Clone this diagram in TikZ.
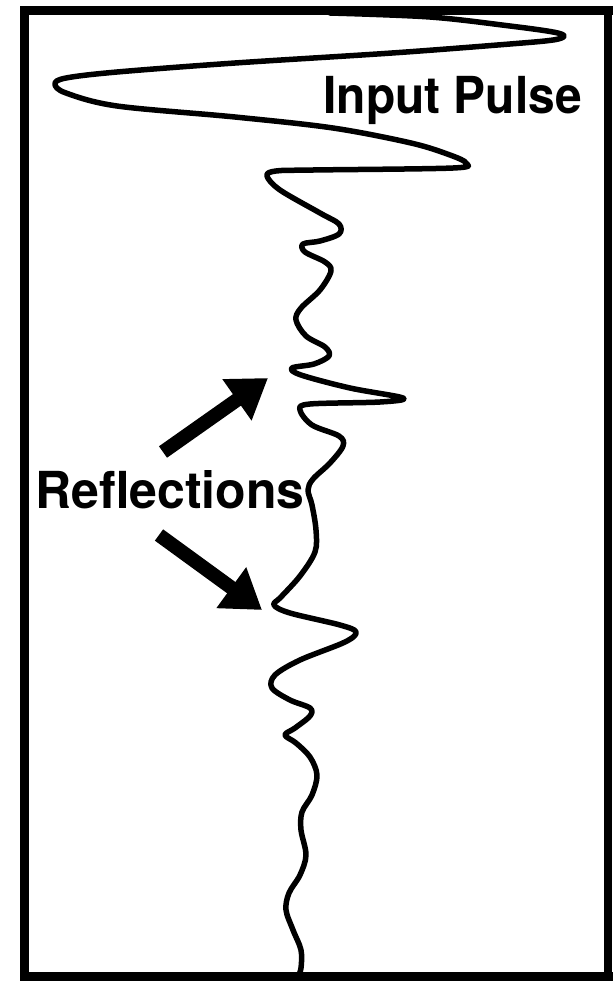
\documentclass[tikz,border=0pt]{standalone}
\usepackage{fontspec}
\setmainfont{TeX Gyre Heros}
\usetikzlibrary{arrows.meta}
\tikzset{
  frameline/.style={line width=9pt, line cap=rect},
  wave/.style={line width=5.5pt, line join=round, line cap=round},
  bigarrow/.style={line width=14pt, -{Triangle[length=38pt,width=48pt]}},
  lbl/.style={inner sep=0pt, anchor=base west, font=\fontsize{51}{51}\selectfont\bfseries}
}
\begin{document}
\begin{tikzpicture}[x=1pt,y=-1pt]
\useasboundingbox (0,0) rectangle (614,983);
% frame
\draw[frameline] (608,976) -- (24,976) -- (24,10) -- (608,10);
\draw[line width=8pt] (608,10) -- (608,976);
% waveform
\draw[wave] plot[smooth, tension=0.55] coordinates {
(330,13) (430,17) (510,26) (553,32) (564,36) (553,40) (510,44) (392,53) (235,63) (117,72) (66,78) (55,84) (66,93) (117,106) (235,117) (333,128) (411,143) (450,155) (466,163) (453,168) (313,170) (276,171) (267,176) (280,190) (320,213) (339,224) (339,234) (320,241) (303,244) (305,252) (325,262) (331,271) (320,290) (301,308) (296,320) (306,336) (325,347) (329,356) (314,364) (292,368) (301,375) (350,388) (403,398) (380,402) (310,404) (300,410) (312,425) (339,436) (343,446) (330,463) (313,479) (308,490) (312,505) (316,530) (315,552) (300,576) (281,597) (274,605) (290,613) (340,625) (356,632) (345,642) (300,660) (275,675) (272,688) (290,700) (310,708) (310,716) (295,728) (285,735) (296,743) (310,757) (317,775) (312,795) (302,812) (301,830) (306,855) (300,875) (289,893) (286,910) (293,930) (301,950) (301,968) (298,977)};
% labels
\node[lbl] (input) at (323,113) {\scalebox{0.94}[1]{Input Pulse}};
\node[lbl] (refl) at (35,508) {\scalebox{0.98}[1]{Reflections}};
% arrows
\coordinate (a1s) at (163,452);
\coordinate (a1e) at (268,378);
\coordinate (a2s) at (159,535);
\coordinate (a2e) at (262,610);
\draw[bigarrow] (a1s) -- (a1e);
\draw[bigarrow] (a2s) -- (a2e);
\end{tikzpicture}
\end{document}
